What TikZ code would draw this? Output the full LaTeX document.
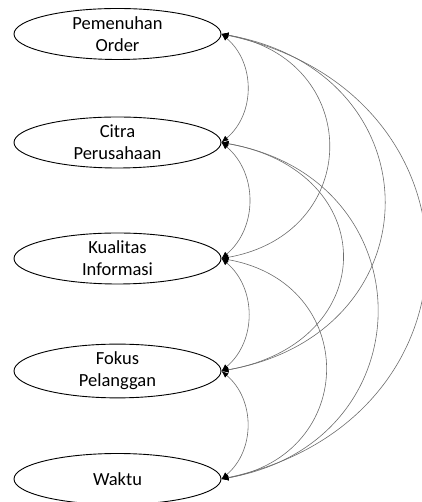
\documentclass[tikz,border=0pt]{standalone}
\usepackage{fontspec}
\setmainfont{Carlito}
\usetikzlibrary{shapes.geometric,arrows.meta}

\tikzset{
  construct/.style={ellipse, draw, line width=0.9pt, minimum width=207pt, minimum height=51pt,
    inner sep=0pt, align=center, font=\fontsize{18.5}{22}\selectfont},
  cov/.style={arrows={Latex[length=7pt,width=5.5pt,black]-Latex[length=7pt,width=5.5pt,black]},
    draw=gray!85!black, line width=0.6pt},
}

\begin{document}
\begin{tikzpicture}[x=1pt,y=1pt]
	\useasboundingbox (0,0) rectangle (421,502);
	% constructs
	\node[construct] (order) at (117.5,468) {Pemenuhan\\Order};
	\node[construct] (citra) at (117.5,359.5) {Citra\\Perusahaan};
	\node[construct] (info) at (117.5,243.5) {Kualitas\\Informasi};
	\node[construct] (fokus) at (117.5,131) {Fokus\\Pelanggan};
	\node[construct] (waktu) at (117.5,23) {Waktu};
	% covariances
	\foreach \a/\b/\o/\l in {order/citra/40/1.05, citra/info/40/1.05, info/fokus/40/1.05, fokus/waktu/40/1.05,
		order/info/10/1.65, citra/fokus/10/1.83, info/waktu/10/1.63,
		order/fokus/10/1.67, citra/waktu/10/1.60, order/waktu/12/1.6}
		\draw[cov] (\a.east) to[out=-\o, in=\o, looseness=\l] (\b.east);
\end{tikzpicture}
\end{document}
